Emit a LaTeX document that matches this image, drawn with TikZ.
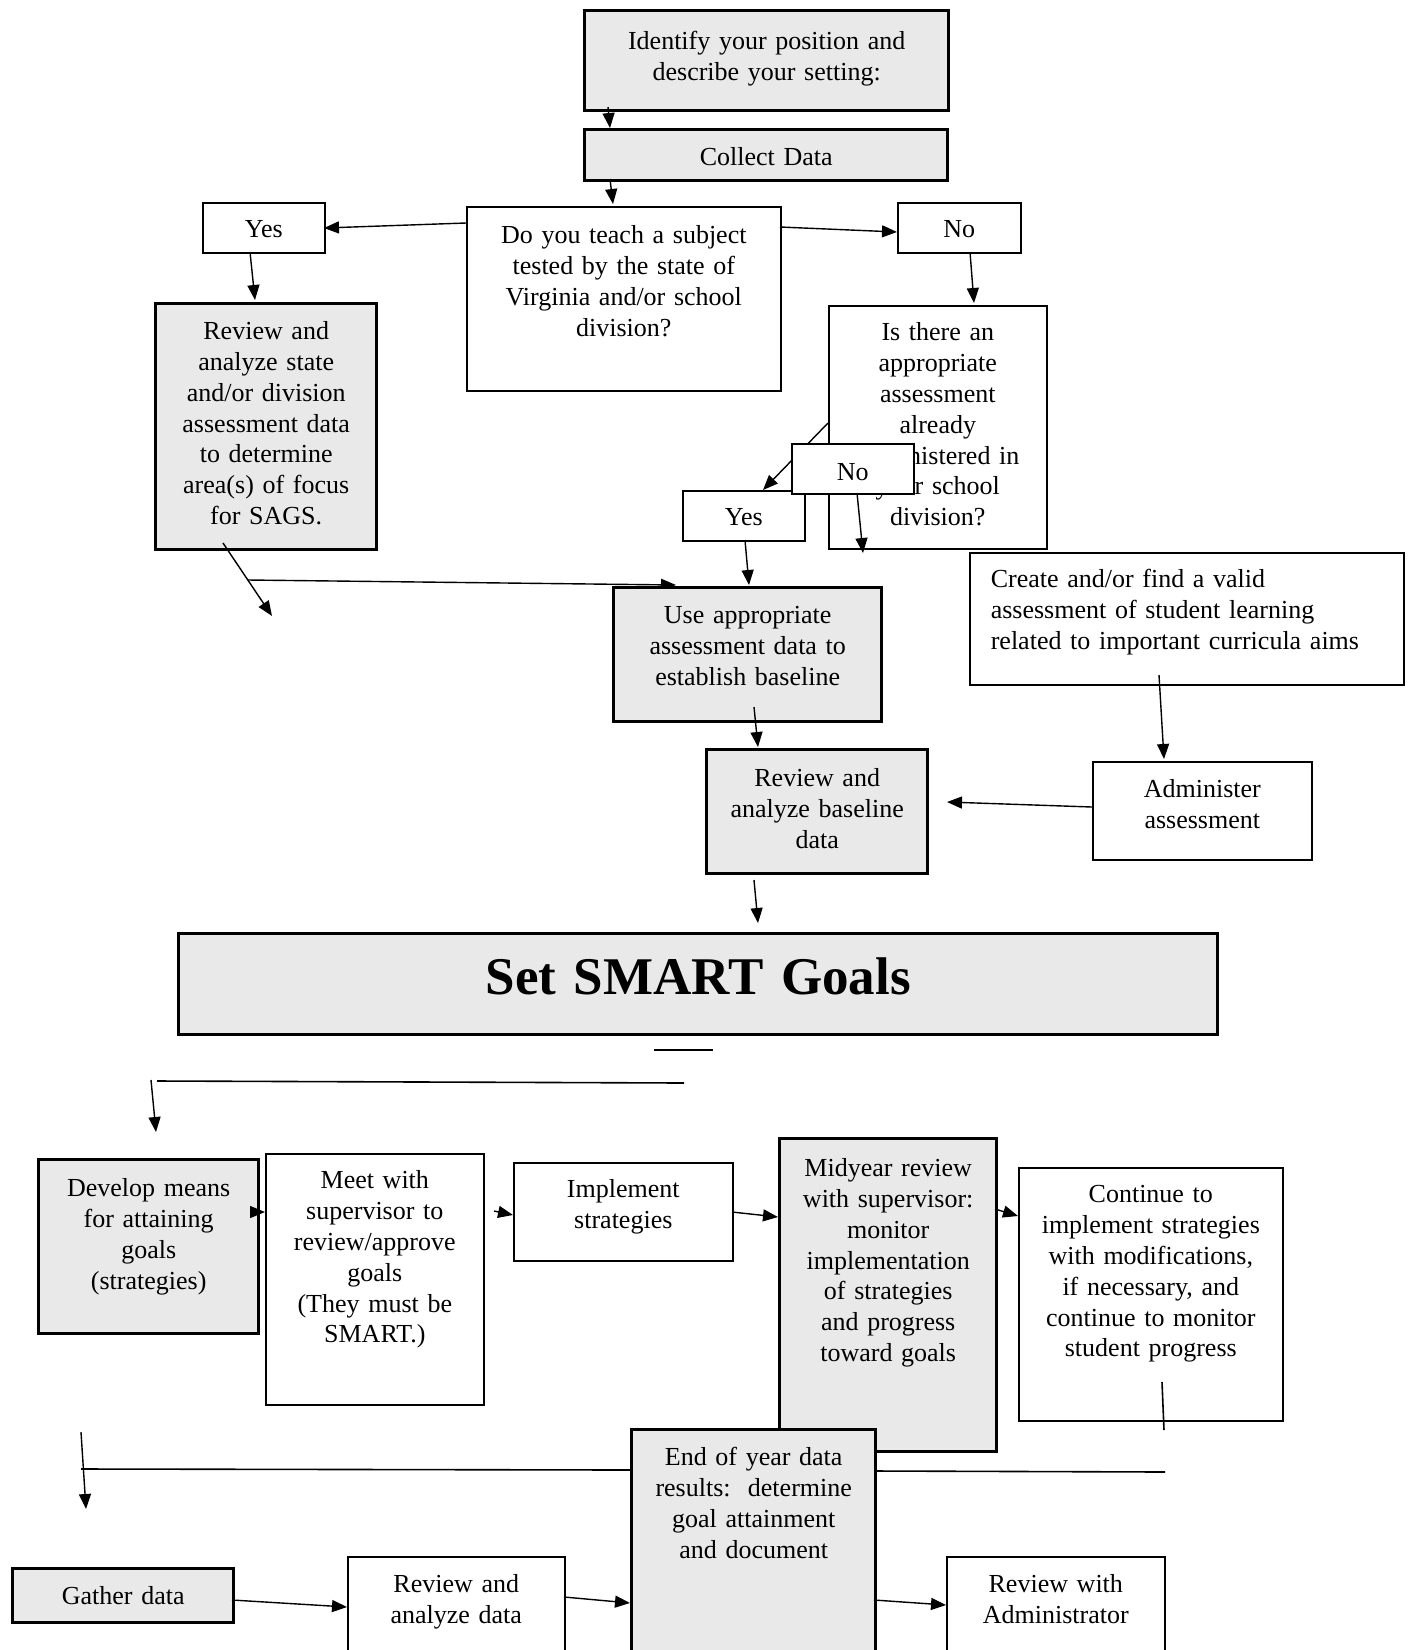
\documentclass[tikz,border=0pt]{standalone}
\usepackage{fontspec}
\setmainfont{Liberation Serif}
\usetikzlibrary{arrows.meta,calc}

\begin{document}
\begin{tikzpicture}[x=1pt,y=-1pt,
 box/.style={draw,line width=1.6pt,fill=white,anchor=north west,inner sep=0pt,
   align=center,font=\fontsize{26}{30.8}\selectfont},
 gbox/.style={box,line width=3.4pt,fill=gray!17},
 sz/.style n args={3}{text width=#1pt,text height=#2pt,text depth=#3pt},
 con/.style={line width=1.4pt,-{Triangle[length=15pt,width=12pt]}},
 seg/.style={line width=1.6pt}]

\useasboundingbox (0,0) rectangle (1412,1650);

 \coordinate (h1) at (863,553);
 \coordinate (j1) at (272,616);
 \coordinate (k0) at (248,580);
 \coordinate (k1) at (676,585);
 \coordinate (p0) at (654,1050);
 \coordinate (p1) at (713,1050);
 \coordinate (q0) at (157,1081);
 \coordinate (q1) at (684,1083);
 \coordinate (r0) at (151,1080);
 \coordinate (r1) at (156,1132);
 \coordinate (w1) at (1164,1430);
 \coordinate (x0) at (81,1469);
 \coordinate (x1) at (1165,1472);
 \coordinate (y0) at (81,1432);
 \coordinate (y1) at (86,1509);


\node[gbox,sz={364}{39}{61}] (idf) at (583,9) {Identify your position and\\describe your setting:};
\node[gbox,sz={363}{36}{15}] (col) at (583,128) {Collect Data};
\node[box,sz={314}{37}{147}] (q) at (466,206) {Do you teach a subject\\tested by the state of\\Virginia and/or school\\division?};
\node[box,sz={122}{35}{15}] (yesA) at (202,202) {Yes};
\node[box,sz={123}{35}{15}] (noA) at (897,202) {No};
\node[gbox,sz={221}{36}{210}] (rs) at (154,302) {Review and\\analyze state\\and/or division\\assessment data\\to determine\\area(s) of focus\\for SAGS.};
\node[box,sz={218}{35}{208}] (isq) at (828,305) {Is there an\\appropriate\\assessment\\already\\administered in\\your school\\division?};
\node[box,sz={122}{35}{15}] (yesB) at (682,490) {Yes};
\draw[con] ($(isq.north west)+(0,118)$) -- ($(yesB.north west)+(81,0)$);
\node[box,sz={122}{37}{13}] (noB) at (791,443) {No};
\draw[con] (k0) -- (k1);
\node[gbox,sz={268}{36}{98}] (use) at (612,586) {Use appropriate\\assessment data to\\establish baseline};
\node[box,align=left,inner xsep=21pt,sz={392}{35}{97}] (crt) at (969,552) {Create and/or find a valid\\assessment of student learning\\related to important curricula aims};
\node[gbox,sz={221}{37}{87}] (rb) at (705,748) {Review and\\analyze baseline\\data};
\node[box,sz={219}{36}{62}] (adm) at (1092,761) {Administer\\assessment};
\node[gbox,sz={1039}{61}{40},font=\fontsize{53}{60}\selectfont\bfseries] (smart) at (177,932) {Set SMART Goals};
\node[gbox,sz={220}{37}{137}] (dev) at (37,1158) {Develop means\\for attaining\\goals\\(strategies)};
\node[box,sz={218}{35}{216}] (meet) at (265,1153) {Meet with\\supervisor to\\review/approve\\goals\\(They must be\\SMART.)};
\node[box,sz={219}{35}{63}] (imp) at (513,1162) {Implement\\strategies};
\node[gbox,sz={217}{38}{275}] (mid) at (778,1137) {Midyear review\\with supervisor:\\monitor\\implementation\\of strategies\\and progress\\toward goals};
\node[box,sz={264}{35}{218}] (cont) at (1018,1167) {Continue to\\implement strategies\\with modifications,\\if necessary, and\\continue to monitor\\student progress};
\node[gbox,sz={244}{36}{230}] (eoy) at (630,1428) {End of year data\\results:\ \ determine\\goal attainment\\and document};
\node[gbox,sz={221}{36}{18}] (gat) at (11,1567) {Gather data};
\node[box,sz={217}{36}{120}] (rvd) at (347,1556) {Review and\\analyze data};
\node[box,sz={218}{36}{120}] (rva) at (946,1556) {Review with\\Administrator};


\draw[con] ($(idf.north west)+(25,98)$) -- ($(col.north west)+(27,0)$);
\draw[con] ($(col.north west)+(27,51)$) -- ($(q.north west)+(147,-2)$);
\draw[con] ($(q.north west)+(0,17)$) -- ($(yesA.north west)+(122,26)$);
\draw[con] ($(q.north west)+(314,21)$) -- ($(noA.north west)+(0,30)$);
\draw[con] ($(yesA.north west)+(48,50)$) -- ($(rs.north west)+(101,-2)$);
\draw[con] ($(noA.north west)+(73,50)$) -- ($(isq.north west)+(146,-2)$);
\draw[con] ($(noB.north west)+(66,50)$) -- (h1);
\draw[con] ($(yesB.north west)+(63,50)$) -- ($(use.north west)+(137,-1)$);
\draw[con] ($(rs.north west)+(69,241)$) -- (j1);
\draw[con] ($(use.north west)+(142,121)$) -- ($(rb.north west)+(53,-1)$);
\draw[con] ($(rb.north west)+(49,132)$) -- ($(smart.north west)+(581,-9)$);
\draw[con] ($(adm.north west)+(0,46)$) -- ($(rb.north west)+(242,54)$);
\draw[con] ($(crt.north west)+(190,123)$) -- ($(adm.north west)+(72,-2)$);

\draw[seg] (p0) -- (p1);
\draw[seg] (q0) -- (q1);
\draw[con] (r0) -- (r1);
\draw[con] ($(dev.north west)+(218,54)$) -- ($(meet.north west)+(0,59)$);
\draw[con] ($(meet.north west)+(229,58)$) -- ($(imp.north west)+(0,53)$);
\draw[con] ($(imp.north west)+(219,50)$) -- ($(mid.north west)+(0,80)$);
\draw[con] ($(mid.north west)+(217,72)$) -- ($(cont.north west)+(0,49)$);
\draw[seg] ($(cont.north west)+(144,215)$) -- (w1);

\draw[seg] (x0) -- ($(eoy.north west)+(0,42)$);
\draw[seg] ($(eoy.north west)+(244,43)$) -- (x1);
\draw[con] (y0) -- (y1);
\draw[con] ($(gat.north west)+(221,33)$) -- ($(rvd.north west)+(0,51)$);
\draw[con] ($(rvd.north west)+(217,41)$) -- ($(eoy.north west)+(0,175)$);
\draw[con] ($(eoy.north west)+(244,172)$) -- ($(rva.north west)+(0,49)$);

\end{tikzpicture}
\end{document}
